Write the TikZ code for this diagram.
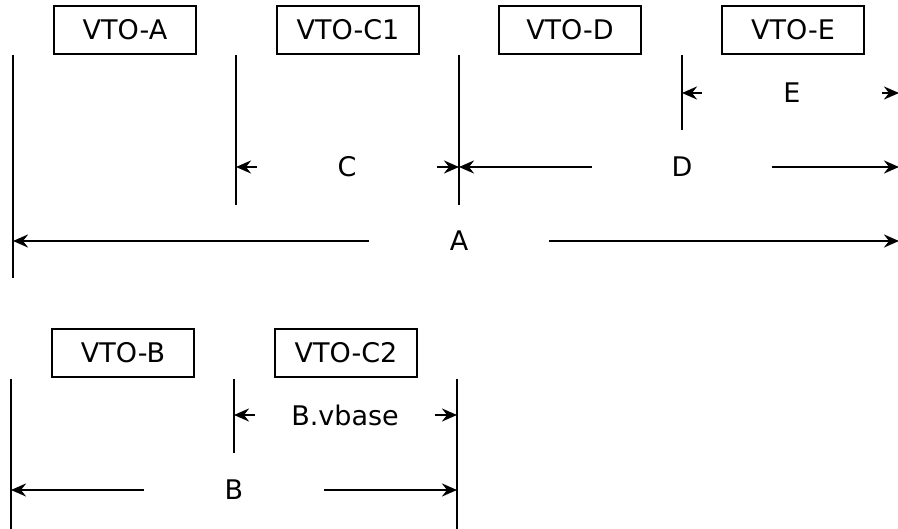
\documentclass[tikz,border=0pt]{standalone}
\usepackage{fontspec}
\setmainfont{DejaVu Sans}
\usetikzlibrary{arrows.meta}
\begin{document}
\begin{tikzpicture}[x=1pt,y=-1pt,
  font=\fontsize{27}{32}\selectfont,
  vtobox/.style={draw,line width=2pt,minimum width=142pt,minimum height=48pt,inner sep=0pt},
  extline/.style={line width=2.5pt},
  dimlabel/.style={minimum width=180pt,inner sep=0pt},
  dimarrow/.style={line width=2.5pt,-{Stealth[length=15pt,width=13pt,inset=5pt]}}]
\useasboundingbox (0,0) rectangle (898,529);

% upper group: boxes
\node[vtobox] (vtoa)  at (125,30) {VTO-A};
\node[vtobox] (vtoc1) at (348,30) {VTO-C1};
\node[vtobox] (vtod)  at (570,30) {VTO-D};
\node[vtobox] (vtoe)  at (793,30) {VTO-E};

% upper group: extension lines
\coordinate (x1t) at (13,55);  \coordinate (x1b) at (13,278);
\coordinate (x2t) at (236,55); \coordinate (x2b) at (236,205);
\coordinate (x3t) at (459,55); \coordinate (x3b) at (459,205);
\coordinate (x4t) at (682,55); \coordinate (x4b) at (682,130);
\draw[extline] (x1t) -- (x1b);
\draw[extline] (x2t) -- (x2b);
\draw[extline] (x3t) -- (x3b);
\draw[extline] (x4t) -- (x4b);

% upper group: dimension ends
\coordinate (eL) at (682,93);  \coordinate (eR) at (899,93);
\coordinate (cL) at (236,167); \coordinate (cR) at (459,167);
\coordinate (dL) at (459,167); \coordinate (dR) at (899,167);
\coordinate (aL) at (13,241);  \coordinate (aR) at (899,241);

% upper group: dimensions
\node[dimlabel] (le) at (792,93) {E};
\draw[dimarrow] (le.west) -- (eL);
\draw[dimarrow] (le.east) -- (eR);
\node[dimlabel] (lc) at (347,167) {C};
\draw[dimarrow] (lc.west) -- (cL);
\draw[dimarrow] (lc.east) -- (cR);
\node[dimlabel] (ld) at (682,167) {D};
\draw[dimarrow] (ld.west) -- (dL);
\draw[dimarrow] (ld.east) -- (dR);
\node[dimlabel] (la) at (459,241) {A};
\draw[dimarrow] (la.west) -- (aL);
\draw[dimarrow] (la.east) -- (aR);

% lower group: boxes
\node[vtobox] (vtob)  at (123,353) {VTO-B};
\node[vtobox] (vtoc2) at (346,353) {VTO-C2};

% lower group: extension lines
\coordinate (y1t) at (11,379);  \coordinate (y1b) at (11,529);
\coordinate (y2t) at (234,379); \coordinate (y2b) at (234,453);
\coordinate (y3t) at (457,379); \coordinate (y3b) at (457,529);
\draw[extline] (y1t) -- (y1b);
\draw[extline] (y2t) -- (y2b);
\draw[extline] (y3t) -- (y3b);

% lower group: dimensions
\coordinate (vL) at (234,415); \coordinate (vR) at (457,415);
\coordinate (bL) at (11,490);  \coordinate (bR) at (457,490);
\node[dimlabel] (lv) at (345,415) {B.vbase};
\draw[dimarrow] (lv.west) -- (vL);
\draw[dimarrow] (lv.east) -- (vR);
\node[dimlabel] (lb) at (234,490) {B};
\draw[dimarrow] (lb.west) -- (bL);
\draw[dimarrow] (lb.east) -- (bR);
\end{tikzpicture}
\end{document}
